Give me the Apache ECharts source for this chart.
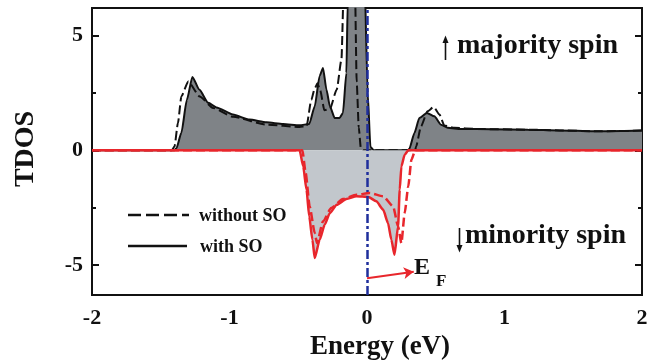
<!DOCTYPE html>
<html>
<head>
<meta charset="utf-8">
<script src="https://cdn.jsdelivr.net/npm/echarts@6/dist/echarts.min.js"></script>
<style>html,body{margin:0;padding:0;background:#fff;}#c{width:657px;height:364px;}</style>
</head>
<body>
<div id="c"></div>
<script>
// ---- data ----
const xTicks = [-2, -1, 0, 1, 2];
const yTickLabels = [-5, 0, 5];
const yMinorTicks = [-2.5, 2.5];

// majority spin, with SO (solid black, dark fill)
const majSoX = [-2, -1.40, -1.385, -1.35, -1.31, -1.27, -1.22, -1.155, -1.095, -0.975, -0.855, -0.73, -0.61, -0.49, -0.42, -0.38, -0.345, -0.32, -0.295, -0.27, -0.235, -0.2, -0.175, -0.15, -0.14, -0.13, -0.03, -0.02, 0.005, 0.025, 0.05, 0.30, 0.308, 0.345, 0.381, 0.436, 0.49, 0.538, 0.587, 0.684, 0.9, 1.17, 1.4, 1.65, 1.85, 2.0];
const majSoY = [0, 0, 0.1, 0.77, 2.2, 3.2, 2.65, 2.07, 1.87, 1.56, 1.34, 1.22, 1.15, 1.09, 1.15, 1.92, 3.23, 3.59, 2.65, 1.92, 1.41, 1.41, 1.63, 3.37, 6.5, 9, 9, 8, 2.5, 0.15, 0, 0, 0.07, 0.76, 1.41, 1.63, 1.48, 1.12, 0.98, 0.93, 0.92, 0.9, 0.87, 0.83, 0.84, 0.86];

// majority spin, without SO (dashed black)
const majNoX = [-2, -1.42, -1.40, -1.375, -1.35, -1.30, -1.217, -1.12, -0.974, -0.73, -0.49, -0.44, -0.405, -0.38, -0.36, -0.34, -0.31, -0.27, -0.22, -0.186, -0.165, -0.09, -0.075, -0.06, -0.045, -0.03, 0.35, 0.357, 0.393, 0.44, 0.485, 0.527, 0.563, 0.636, 0.8, 1.17, 1.4, 1.65, 1.85, 2.0];
const majNoY = [0, 0, 0.17, 1.19, 2.35, 3.0, 2.35, 1.85, 1.46, 1.12, 1.02, 1.05, 2.2, 2.7, 2.92, 2.6, 1.75, 1.8, 2.65, 3.95, 8, 8, 3, 1, 0.1, 0, 0, 0.17, 1.05, 1.7, 1.89, 1.56, 1.08, 0.98, 0.93, 0.9, 0.87, 0.83, 0.84, 0.86];

// minority spin, with SO (solid red, light fill)
const minSoX = [-2, -0.49, -0.464, -0.44, -0.42, -0.397, -0.38, -0.344, -0.308, -0.27, -0.22, -0.15, -0.077, 0.01, 0.068, 0.117, 0.153, 0.177, 0.2, 0.226, 0.238, 0.25, 0.274, 0.30, 2.0];
const minSoY = [0, 0, -0.7, -1.71, -2.88, -3.89, -4.69, -3.89, -3.24, -2.73, -2.37, -2.12, -2.0, -2.03, -2.22, -2.58, -3.17, -3.89, -4.55, -3.31, -1.71, -0.7, -0.19, 0, 0];

// minority spin, without SO (dashed red)
const minNoX = [-2, -0.47, -0.446, -0.417, -0.38, -0.364, -0.32, -0.26, -0.175, -0.077, 0.02, 0.117, 0.19, 0.226, 0.25, 0.274, 0.3, 0.323, 0.35, 2.0];
const minNoY = [0, 0, -0.99, -2.44, -3.6, -4.04, -3.09, -2.51, -2.12, -1.93, -1.86, -2.0, -2.44, -3.31, -4.04, -2.73, -1.57, -0.41, 0, 0];

const fermiX = 0;
const efArrow = [[0, -5.57], [0.34, -5.29]];

// ---- chart ----
const zip = (xs, ys) => xs.map((x, i) => [x, ys[i]]);
const FF = '"Liberation Serif", "Times New Roman", serif';
const INK = '#111';
const RED = '#e8262c';

function yAx(pos, ticks, len, labels) {
  return {
    type: 'value', min: -6.3, max: 6.2, position: pos,
    axisLine: { show: true, onZero: false, lineStyle: { color: INK, width: 2 } },
    axisTick: { show: true, inside: true, length: len, customValues: ticks, lineStyle: { color: INK, width: 2 } },
    axisLabel: labels ? { show: true, customValues: labels, color: INK, fontFamily: FF, fontWeight: 'bold', fontSize: 22, margin: 9 } : { show: false },
    splitLine: { show: false }
  };
}

const chart = echarts.init(document.getElementById('c'), null, { renderer: 'canvas' });
chart.setOption({
  animation: false,
  backgroundColor: '#fff',
  grid: { left: 92, right: 15, top: 8, bottom: 69 },
  xAxis: [
    { type: 'value', min: xTicks[0], max: xTicks[xTicks.length - 1], interval: 1, position: 'bottom',
      axisLine: { show: true, onZero: false, lineStyle: { color: INK, width: 2 } }, axisTick: { show: false },
      splitLine: { show: false },
      axisLabel: { color: INK, fontFamily: FF, fontWeight: 'bold', fontSize: 22, margin: 12 } },
    { type: 'value', min: -2, max: 2, position: 'top',
      axisLine: { show: true, onZero: false, lineStyle: { color: INK, width: 2 } }, axisTick: { show: false },
      axisLabel: { show: false }, splitLine: { show: false } }
  ],
  yAxis: [
    yAx('left', yTickLabels, 7, yTickLabels),
    yAx('left', yMinorTicks, 4, null),
    yAx('right', yTickLabels, 7, null),
    yAx('right', yMinorTicks, 4, null)
  ],
  series: [
    { type: 'line', data: zip(majSoX, majSoY), showSymbol: false, smooth: 0.2, smoothMonotone: 'x', z: 2,
      lineStyle: { color: INK, width: 2 }, areaStyle: { color: '#7f8387', opacity: 1 } },
    { type: 'line', data: zip(majNoX, majNoY), showSymbol: false, smooth: 0.2, smoothMonotone: 'x', z: 3,
      lineStyle: { color: INK, width: 2, type: [9, 4] } },
    { type: 'line', data: zip(minSoX, minSoY), showSymbol: false, smooth: 0.2, smoothMonotone: 'x', z: 4,
      lineStyle: { color: RED, width: 2.5 }, areaStyle: { color: '#c2c7cc', opacity: 1 },
      markLine: { silent: true, animation: false, symbol: ['none', 'arrow'], symbolSize: [9, 10],
        label: { show: false }, lineStyle: { color: RED, width: 2, type: 'solid' },
        data: [[{ coord: efArrow[0] }, { coord: efArrow[1] }]] } },
    { type: 'line', data: zip(minNoX, minNoY), showSymbol: false, smooth: 0.2, smoothMonotone: 'x', z: 5,
      lineStyle: { color: RED, width: 2.5, type: [9, 4] },
      markLine: { silent: true, animation: false, symbol: ['none', 'none'], label: { show: false },
        lineStyle: { color: '#1f2f9c', width: 2.5, type: [9, 3, 3, 3] },
        data: [{ xAxis: fermiX }] } }
  ],
  graphic: [
    { type: 'text', x: 26, y: 149, rotation: Math.PI / 2,
      style: { text: 'TDOS', fontFamily: FF, fontWeight: 'bold', fontSize: 28, fill: INK, align: 'center', verticalAlign: 'middle' } },
    { type: 'text', x: 380, y: 347,
      style: { text: 'Energy (eV)', fontFamily: FF, fontWeight: 'bold', fontSize: 27, fill: INK, align: 'center', verticalAlign: 'middle' } },
    // majority spin
    { type: 'line', shape: { x1: 445.5, y1: 60, x2: 445.5, y2: 41 }, style: { stroke: INK, lineWidth: 1.6 } },
    { type: 'polygon', shape: { points: [[442.5, 43], [448.5, 43], [445.5, 35.5]] }, style: { fill: INK } },
    { type: 'text', x: 457, y: 46,
      style: { text: 'majority spin', fontFamily: FF, fontWeight: 'bold', fontSize: 28, fill: INK, align: 'left', verticalAlign: 'middle' } },
    // minority spin
    { type: 'line', shape: { x1: 459.5, y1: 228, x2: 459.5, y2: 247 }, style: { stroke: INK, lineWidth: 1.6 } },
    { type: 'polygon', shape: { points: [[456.5, 245], [462.5, 245], [459.5, 252.5]] }, style: { fill: INK } },
    { type: 'text', x: 465, y: 236,
      style: { text: 'minority spin', fontFamily: FF, fontWeight: 'bold', fontSize: 28, fill: INK, align: 'left', verticalAlign: 'middle' } },
    // legend
    { type: 'line', shape: { x1: 128, y1: 215, x2: 189, y2: 215 }, style: { stroke: INK, lineWidth: 2.5, lineDash: [13, 5] } },
    { type: 'text', x: 199, y: 216,
      style: { text: 'without SO', fontFamily: FF, fontWeight: 'bold', fontSize: 18, fill: INK, align: 'left', verticalAlign: 'middle' } },
    { type: 'line', shape: { x1: 128, y1: 246, x2: 187, y2: 246 }, style: { stroke: INK, lineWidth: 2.5 } },
    { type: 'text', x: 200, y: 247,
      style: { text: 'with SO', fontFamily: FF, fontWeight: 'bold', fontSize: 18, fill: INK, align: 'left', verticalAlign: 'middle' } },
    // E_F
    { type: 'text', x: 414, y: 268,
      style: { text: 'E', fontFamily: FF, fontWeight: 'bold', fontSize: 24, fill: INK, align: 'left', verticalAlign: 'middle' } },
    { type: 'text', x: 436, y: 282,
      style: { text: 'F', fontFamily: FF, fontWeight: 'bold', fontSize: 17, fill: INK, align: 'left', verticalAlign: 'middle' } }
  ]
});
</script>
</body>
</html>
